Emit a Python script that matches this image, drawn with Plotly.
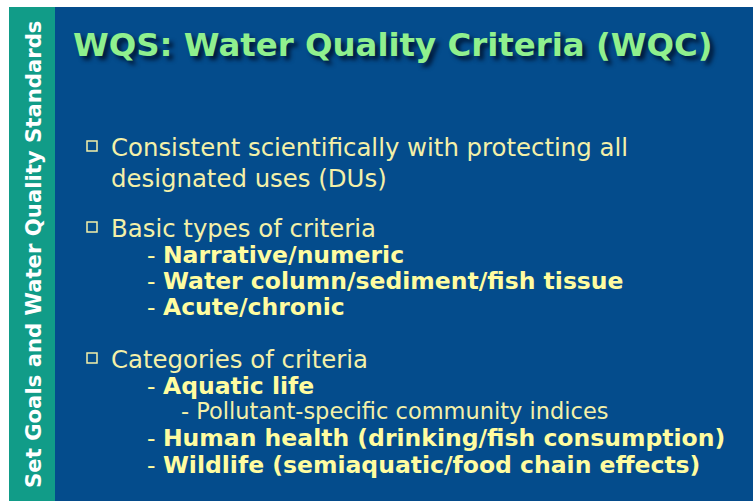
import plotly.graph_objects as go

# slide content
title = "WQS: Water Quality Criteria (WQC)"
side_label = "Set Goals and Water Quality Standards"

bullets = [
    ["Consistent scientifically with protecting all", "designated uses (DUs)"],
    ["Basic types of criteria"],
    ["Categories of criteria"],
]
bullet_rows = [147, 228, 359]

sub_items = [
    "Narrative/numeric",
    "Water column/sediment/fish tissue",
    "Acute/chronic",
    "Aquatic life",
    "Human health (drinking/fish consumption)",
    "Wildlife (semiaquatic/food chain effects)",
]
sub_rows = [255, 281, 307, 386, 438, 465]

subsub_items = ["Pollutant-specific community indices"]
subsub_rows = [411]

W, H = 753, 501
BLUE = "#044C8C"
GREEN = "#119C88"
TITLE_C = "#90F08E"
TEXT_C = "#F4F0A8"
BOLD_C = "#FFFCA0"
FONT = "DejaVu Sans"

fig = go.Figure()

# bullet squares
fig.add_trace(go.Scatter(
    x=[92] * len(bullet_rows), y=[r - 1 for r in bullet_rows], mode="markers",
    marker=dict(symbol="square-open", size=10, color=TEXT_C, line=dict(width=1.5)),
    hoverinfo="skip", showlegend=False))

shapes = [
    dict(type="rect", x0=9, x1=W, y0=7, y1=H, fillcolor=BLUE, line_width=0, layer="below"),
    dict(type="rect", x0=9, x1=55, y0=7, y1=H, fillcolor=GREEN, line_width=0, layer="below"),
]

ann = []
ann.append(dict(x=393, y=45, text="<b>" + title + "</b>", showarrow=False,
                xanchor="center", yanchor="middle",
                font=dict(family=FONT, size=32.4, color=TITLE_C,
                          shadow="4px 4px 4px #001a3a")))
ann.append(dict(x=33, y=255, text="<b>" + side_label + "</b>", showarrow=False,
                textangle=-90, xanchor="center", yanchor="middle",
                font=dict(family=FONT, size=21.2, color="white")))

for lines, row in zip(bullets, bullet_rows):
    for i, line in enumerate(lines):
        ann.append(dict(x=109, y=row + 31 * i, text=line, showarrow=False,
                        xanchor="left", yanchor="middle",
                        font=dict(family=FONT, size=24.4, color=TEXT_C)))

for item, row in zip(sub_items, sub_rows):
    ann.append(dict(x=145, y=row, text="- <b>" + item + "</b>", showarrow=False,
                    xanchor="left", yanchor="middle",
                    font=dict(family=FONT, size=23.5, color=BOLD_C)))

for item, row in zip(subsub_items, subsub_rows):
    ann.append(dict(x=179, y=row, text="- " + item, showarrow=False,
                    xanchor="left", yanchor="middle",
                    font=dict(family=FONT, size=22.5, color=TEXT_C)))

fig.update_layout(
    width=W, height=H, margin=dict(l=0, r=0, t=0, b=0),
    paper_bgcolor="white", plot_bgcolor="white",
    shapes=shapes, annotations=ann,
    xaxis=dict(range=[0, W], visible=False, fixedrange=True),
    yaxis=dict(range=[H, 0], visible=False, fixedrange=True),
)

# drop the page's default body margin so the slide fills the window
fig.write_html("out.html", config={"displayModeBar": False},
               post_script="document.body.style.margin='0';"
                           "document.body.style.overflow='hidden';")
